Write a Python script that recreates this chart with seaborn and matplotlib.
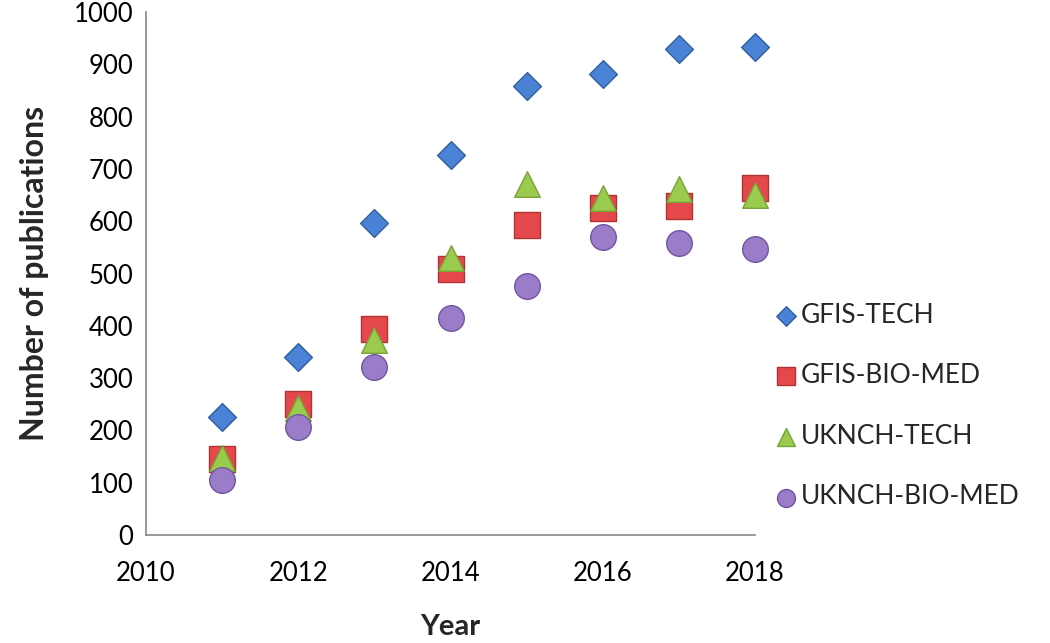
import numpy as np
import pandas as pd
import matplotlib
matplotlib.use("Agg")
import matplotlib.pyplot as plt
import seaborn as sns

years = [2011, 2012, 2013, 2014, 2015, 2016, 2017, 2018]
gfis_tech = [226, 341, 596, 726, 859, 882, 929, 934]
gfis_biomed = [145, 250, 394, 508, 592, 625, 629, 663]
uknch_tech = [147, 243, 373, 529, 671, 644, 661, 651]
uknch_biomed = [106, 207, 321, 414, 477, 570, 558, 547]
series_names = ["GFIS-TECH", "GFIS-BIO-MED", "UKNCH-TECH", "UKNCH-BIO-MED"]
x_ticks = [2010, 2012, 2014, 2016, 2018]
y_ticks = list(range(0, 1001, 100))

sns.set_theme(style="white")
plt.rcParams['font.family'] = ['Lato', 'DejaVu Sans']

fig = plt.figure(figsize=(10.5, 6.43), dpi=100)
ax = fig.add_axes([146/1050, 1-535/643, (755-146)/1050, (535-12)/643])

styles = [
    dict(marker="D", s=200, color="#4A82D6", edgecolor="#2F5F9E"),
    dict(marker="s", s=340, color="#E5484B", edgecolor="#B23234"),
    dict(marker="^", s=340, color="#9BCB4E", edgecolor="#78A437"),
    dict(marker="o", s=340, color="#9A7CC9", edgecolor="#6F56A0"),
]
values = [gfis_tech, gfis_biomed, uknch_tech, uknch_biomed]
for name, vals, st in zip(series_names, values, styles):
    df = pd.DataFrame({"Year": years, "Count": vals})
    sns.scatterplot(data=df, x="Year", y="Count", ax=ax, label=name,
                    marker=st["marker"], s=st["s"], color=st["color"],
                    edgecolor=st["edgecolor"], linewidth=1.0, zorder=3,
                    clip_on=False)

ax.set_xlim(2010, 2018)
ax.set_ylim(0, 1000)
ax.set_xticks(x_ticks)
ax.set_yticks(y_ticks)
ax.tick_params(axis="both", labelsize=18.5, colors="black", length=5, width=1,
               direction="out")
ax.tick_params(axis="x", pad=14, color="#888888")
ax.tick_params(axis="y", pad=4, color="#888888")
for side in ["top", "right"]:
    ax.spines[side].set_visible(False)
for side in ["left", "bottom"]:
    ax.spines[side].set_color("#888888")
    ax.spines[side].set_linewidth(1.2)

ax.set_xlabel("Year", fontsize=21, fontweight="bold", labelpad=20)
ax.set_ylabel("Number of publications", fontsize=23, fontweight="bold", labelpad=18)

ax.get_legend().remove()
handles, labels = ax.get_legend_handles_labels()
fig.legend(handles, labels, loc="upper left", bbox_to_anchor=(764/1050, 1-292/643),
           frameon=False, fontsize=19, labelspacing=1.35, handletextpad=0.1,
           handlelength=0.9, markerscale=0.7, borderaxespad=0)

fig.savefig("out.png", dpi=100)
